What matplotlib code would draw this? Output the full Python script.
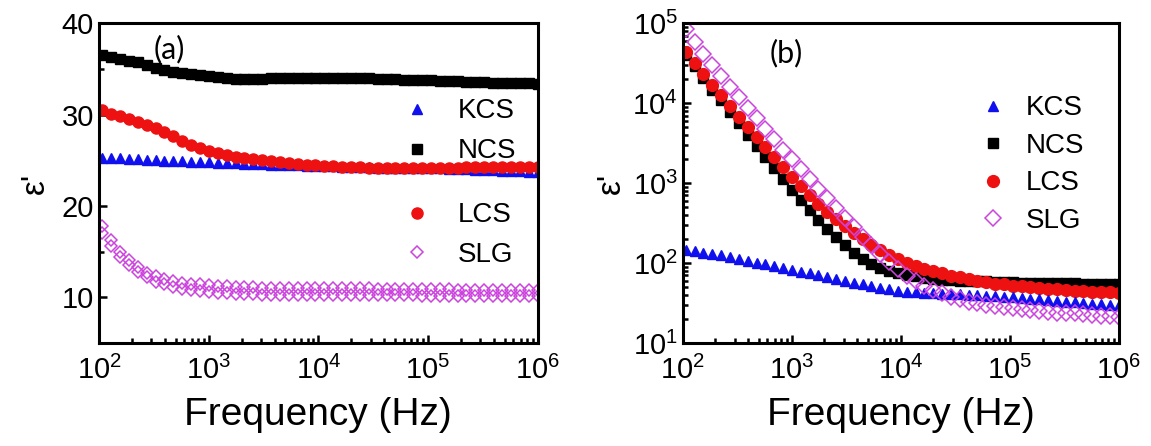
import numpy as np
import matplotlib
matplotlib.use("Agg")
import matplotlib.pyplot as plt
from matplotlib.ticker import LogLocator, FixedLocator, NullFormatter

plt.rcParams['font.family'] = ['Liberation Sans', 'DejaVu Sans']
plt.rcParams['mathtext.default'] = 'regular'

# frequency grid (log spaced, ~10^2.03 ... 10^6)
freq = np.logspace(2.03, 6.0, 50)

# panel (a) real permittivity, linear scale
kcs_a = [25.3, 25.2, 25.2, 25.1, 25.1, 25.0, 25.0, 24.9, 24.9, 24.9, 24.8, 24.8, 24.8, 24.7, 24.7,
         24.7, 24.6, 24.6, 24.6, 24.5, 24.5, 24.5, 24.5, 24.4, 24.4, 24.4, 24.4, 24.3, 24.3, 24.3,
         24.3, 24.2, 24.2, 24.2, 24.2, 24.1, 24.1, 24.1, 24.1, 24.0, 24.0, 24.0, 23.9, 23.9, 23.9,
         23.8, 23.8, 23.8, 23.7, 23.7]
ncs_a = [36.5, 36.3, 36.1, 35.9, 35.7, 35.4, 35.1, 34.9, 34.7, 34.5, 34.4, 34.3, 34.2, 34.1, 34.0,
         33.9, 33.9, 33.9, 33.9, 34.0, 34.0, 34.0, 34.0, 34.0, 34.0, 34.0, 34.0, 34.0, 34.0, 34.0,
         34.0, 33.9, 33.9, 33.9, 33.8, 33.8, 33.8, 33.8, 33.7, 33.7, 33.7, 33.6, 33.6, 33.6, 33.5,
         33.5, 33.5, 33.4, 33.4, 33.3]
lcs_a = [30.5, 30.1, 29.8, 29.5, 29.2, 28.9, 28.5, 28.1, 27.6, 27.1, 26.7, 26.3, 26.0, 25.8, 25.6,
         25.4, 25.2, 25.1, 25.0, 24.9, 24.8, 24.7, 24.6, 24.5, 24.5, 24.4, 24.4, 24.3, 24.3, 24.3,
         24.2, 24.2, 24.2, 24.2, 24.2, 24.2, 24.2, 24.2, 24.2, 24.2, 24.2, 24.3, 24.3, 24.3, 24.3,
         24.3, 24.3, 24.3, 24.3, 24.3]
slg_a = [17.8, 16.3, 15.0, 14.1, 13.3, 12.7, 12.3, 12.0, 11.8, 11.6, 11.5, 11.4, 11.3, 11.2, 11.2,
         11.1, 11.1, 11.1, 11.0, 11.0, 11.0, 11.0, 11.0, 11.0, 11.0, 11.0, 11.0, 11.0, 11.0, 11.0,
         11.0, 10.9, 10.9, 10.9, 10.9, 10.9, 10.9, 10.9, 10.9, 10.9, 10.8, 10.8, 10.8, 10.8, 10.8,
         10.8, 10.8, 10.8, 10.8, 10.8]
slg_a2 = [17.0, 15.6, 14.4, 13.5, 12.8, 12.2, 11.7, 11.4, 11.1, 10.9, 10.8, 10.7, 10.6, 10.5, 10.5,
          10.4, 10.4, 10.4, 10.3, 10.3, 10.3, 10.3, 10.3, 10.3, 10.2, 10.2, 10.2, 10.2, 10.2, 10.2,
          10.2, 10.2, 10.2, 10.2, 10.2, 10.2, 10.1, 10.1, 10.1, 10.1, 10.1, 10.1, 10.1, 10.1, 10.1,
          10.1, 10.1, 10.1, 10.1, 10.1]

# panel (b) log scale
kcs_b = [145, 140, 135, 130, 125, 119, 113, 107, 101, 96, 91, 86, 82, 78, 74, 70, 66, 63, 60, 57,
         54, 51, 49, 47, 45, 44, 43, 42.5, 42, 41.5, 41, 40.5, 40, 39.5, 39, 38.5, 38, 37.5, 37, 36,
         35, 34, 33.5, 33, 32.5, 32, 31, 30.5, 30, 29.5]
ncs_b = [40000, 29000, 20500, 14800, 10800, 7800, 5600, 4050, 2900, 2150, 1550, 1120, 830, 620, 460,
         350, 270, 210, 166, 135, 112, 98, 87, 79, 74, 71, 68, 65, 63, 62,
         61, 60, 60, 59, 59, 58, 58, 58, 57, 57, 57, 56, 56, 56, 56, 55, 55, 55, 55, 55]
lcs_b = [43000, 31500, 23000, 16800, 12500, 9200, 6800, 5000, 3800, 2820, 2140, 1580, 1200, 910, 710,
         550, 440, 355, 290, 240, 200, 170, 145, 126, 112, 100, 91, 85, 79, 74,
         69, 66, 63, 60, 58, 55, 54, 52, 51, 50, 49, 48, 47, 46, 45, 45, 44, 43, 43, 42]
slg_b = [84000, 58000, 41500, 29800, 21800, 16000, 11800, 8700, 6500, 4800, 3550, 2630, 2000, 1480,
         1120, 850, 650, 490, 370, 280, 214, 166, 129, 102, 83, 69, 59, 51, 46, 42,
         38, 35, 33, 32, 30, 29, 28, 27, 26.3, 25.7, 25.1, 24.5, 24.0, 23.4, 23.4, 22.9, 22.4, 21.9,
         21.9, 21.4]

BLUE = '#1010ee'
RED = '#ee1111'
PINK = '#cc44dd'

fig = plt.figure(figsize=(11.51, 4.46), dpi=100)
ax1 = fig.add_axes([0.086, 0.231, 0.381, 0.717])
ax2 = fig.add_axes([0.593, 0.231, 0.379, 0.717])

def style(ax):
    ax.set_xscale('log')
    ax.set_xlim(1e2, 1e6)
    for s in ax.spines.values():
        s.set_linewidth(2.2)
    ax.tick_params(which='both', direction='in', top=False, right=False, width=1.8, labelsize=21)
    ax.tick_params(which='major', length=6)
    ax.tick_params(which='minor', length=3.5)
    ax.xaxis.set_major_locator(LogLocator(base=10, numticks=10))
    ax.xaxis.set_minor_locator(LogLocator(base=10, subs=np.arange(2, 10), numticks=10))
    ax.xaxis.set_minor_formatter(NullFormatter())
    ax.set_xlabel('Frequency (Hz)', fontsize=28, labelpad=9)
    ax.tick_params(axis='x', pad=9)

leg_kw = dict(frameon=False, fontsize=20, borderaxespad=0, borderpad=0, handlelength=1.2)

# (a)
style(ax1)
h_k, = ax1.plot(freq, kcs_a, '^', color=BLUE, ms=7.5, mec=BLUE, ls='none')
h_n, = ax1.plot(freq, ncs_a, 's', color='black', ms=6.5, ls='none')
h_l, = ax1.plot(freq, lcs_a, 'o', color=RED, ms=8, ls='none')
h_s, = ax1.plot(freq, slg_a, 'D', mfc='none', mec=PINK, ms=6.5, mew=1.1, ls='none')
ax1.plot(freq, slg_a2, 'D', mfc='none', mec=PINK, ms=6.5, mew=1.1, ls='none')
ax1.set_ylim(5, 40)
ax1.yaxis.set_major_locator(FixedLocator([10, 20, 30, 40]))
ax1.yaxis.set_minor_locator(FixedLocator([15, 25, 35]))
ax1.set_ylabel("ε'", fontsize=24, labelpad=8)
ax1.text(0.125, 0.965, '(a)', transform=ax1.transAxes, fontsize=22, va='top', family='Lato')
leg1 = ax1.legend([h_k, h_n], ['KCS', 'NCS'], loc='upper left', bbox_to_anchor=(0.688, 0.765),
                  handletextpad=0.85, labelspacing=0.5, **leg_kw)
ax1.add_artist(leg1)
ax1.legend([h_l, h_s], ['LCS', 'SLG'], loc='upper left', bbox_to_anchor=(0.688, 0.44),
           handletextpad=0.85, labelspacing=0.5, **leg_kw)

# (b)
style(ax2)
ax2.set_yscale('log')
g_n, = ax2.plot(freq, ncs_b, 's', color='black', ms=6.5, ls='none')
g_l, = ax2.plot(freq, lcs_b, 'o', color=RED, ms=8.5, ls='none')
g_k, = ax2.plot(freq, kcs_b, '^', color=BLUE, ms=7.5, ls='none')
g_s, = ax2.plot(freq, slg_b, 'D', mfc='none', mec=PINK, ms=8, mew=1.1, ls='none')
ax2.set_ylim(1e1, 1e5)
ax2.yaxis.set_major_locator(LogLocator(base=10, numticks=10))
ax2.yaxis.set_minor_locator(LogLocator(base=10, subs=np.arange(2, 10), numticks=10))
ax2.yaxis.set_minor_formatter(NullFormatter())
ax2.set_ylabel("ε'", fontsize=24, labelpad=4)
ax2.text(0.2, 0.95, '(b)', transform=ax2.transAxes, fontsize=22, va='top', family='Lato')
ax2.legend([g_k, g_n, g_l, g_s], ['KCS', 'NCS', 'LCS', 'SLG'], loc='upper left',
           bbox_to_anchor=(0.673, 0.774), handletextpad=0.6, labelspacing=0.41, **leg_kw)

fig.savefig('out.png', dpi=100)
